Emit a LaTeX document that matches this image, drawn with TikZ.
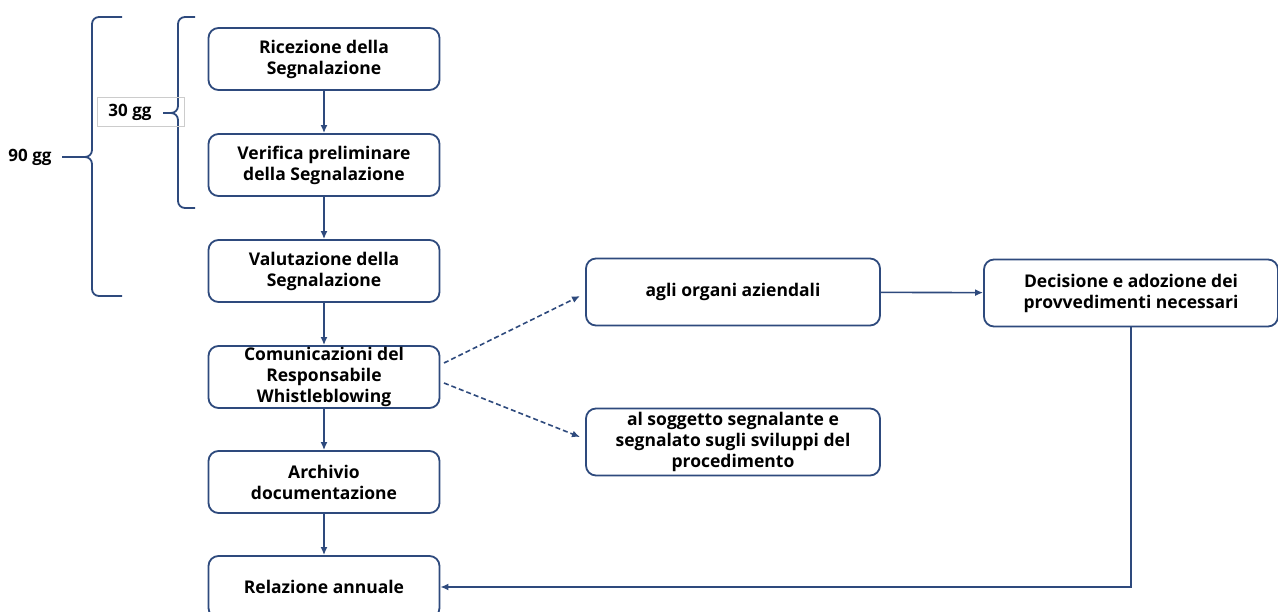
\documentclass[tikz,border=0pt]{standalone}
\usepackage{fontspec}
\setmainfont{Open Sans}
\usetikzlibrary{arrows.meta,positioning}
\definecolor{navy}{HTML}{2E4A7D}
\tikzset{
  stepbox/.style={draw=navy, line width=1.8pt, rounded corners=10pt, minimum width=231pt, minimum height=62pt, align=center, font=\bfseries\fontsize{17.5}{21}\selectfont, inner sep=1pt},
  sidebox/.style={stepbox, minimum width=294pt, minimum height=67pt},
  flow/.style={navy, line width=1.6pt, -{Latex[length=8pt,width=7pt]}},
  dflow/.style={flow, dashed, dash pattern=on 5pt off 3pt},
  brace/.style={navy, line width=1.8pt, rounded corners=7pt},
  lbl/.style={font=\bfseries\fontsize{17}{20}\selectfont}
}
\begin{document}
\begin{tikzpicture}[x=1pt,y=-1pt]
  \useasboundingbox (0,0) rectangle (1278,612);
  % colonna principale
  \node[stepbox] (ric) at (324,59) {Ricezione della\\Segnalazione};
  \node[stepbox] (ver) at (324,165) {Verifica preliminare\\della Segnalazione};
  \node[stepbox] (val) at (324,271) {Valutazione della\\Segnalazione};
  \node[stepbox] (com) at (324,377) {Comunicazioni del\\Responsabile\\Whistleblowing};
  \node[stepbox] (arc) at (324,482) {Archivio\\documentazione};
  \node[stepbox] (rel) at (324,587) {Relazione annuale};
  % lato destro
  \node[sidebox] (org) at (733,292) {agli organi aziendali};
  \node[sidebox] (sog) at (733,442) {al soggetto segnalante e\\segnalato sugli sviluppi del\\procedimento};
  \node[sidebox] (dec) at (1131,293) {Decisione e adozione dei\\provvedimenti necessari};
  \draw[flow] (ric) -- (ver);
  \draw[flow] (ver) -- (val);
  \draw[flow] (val) -- (com);
  \draw[flow] (com) -- (arc);
  \draw[flow] (arc) -- (rel);
  \coordinate (c1) at (444,363);
  \coordinate (c2) at (444,383);
  \draw[dflow] (c1) -- (580,296);
  \draw[dflow] (c2) -- (580,437);
  \draw[flow] (org) -- (dec);
  \draw[flow] (dec.south) |- (rel.east);
  % parentesi
  \draw[brace] (122,17) -- (92,17) -- (92,157) -- (86,157);
  \draw[brace] (122,296) -- (92,296) -- (92,157) -- (86,157);
  \draw[navy, line width=1.8pt] (62,157) -- (88,157);
  \node[lbl] (g90) at (30,157) {90 gg};
  \draw[brace] (195,17) -- (178,17) -- (178,113) -- (172,113);
  \draw[brace] (195,208) -- (178,208) -- (178,113) -- (172,113);
  \node[draw=black!20, line width=0.8pt, minimum width=87pt, minimum height=29pt, anchor=west] (g30) at (97,112) {};
  \node[lbl] at (130,112) {30 gg};
  \draw[navy, line width=1.8pt] (163,113) -- (174,113);
\end{tikzpicture}
\end{document}
